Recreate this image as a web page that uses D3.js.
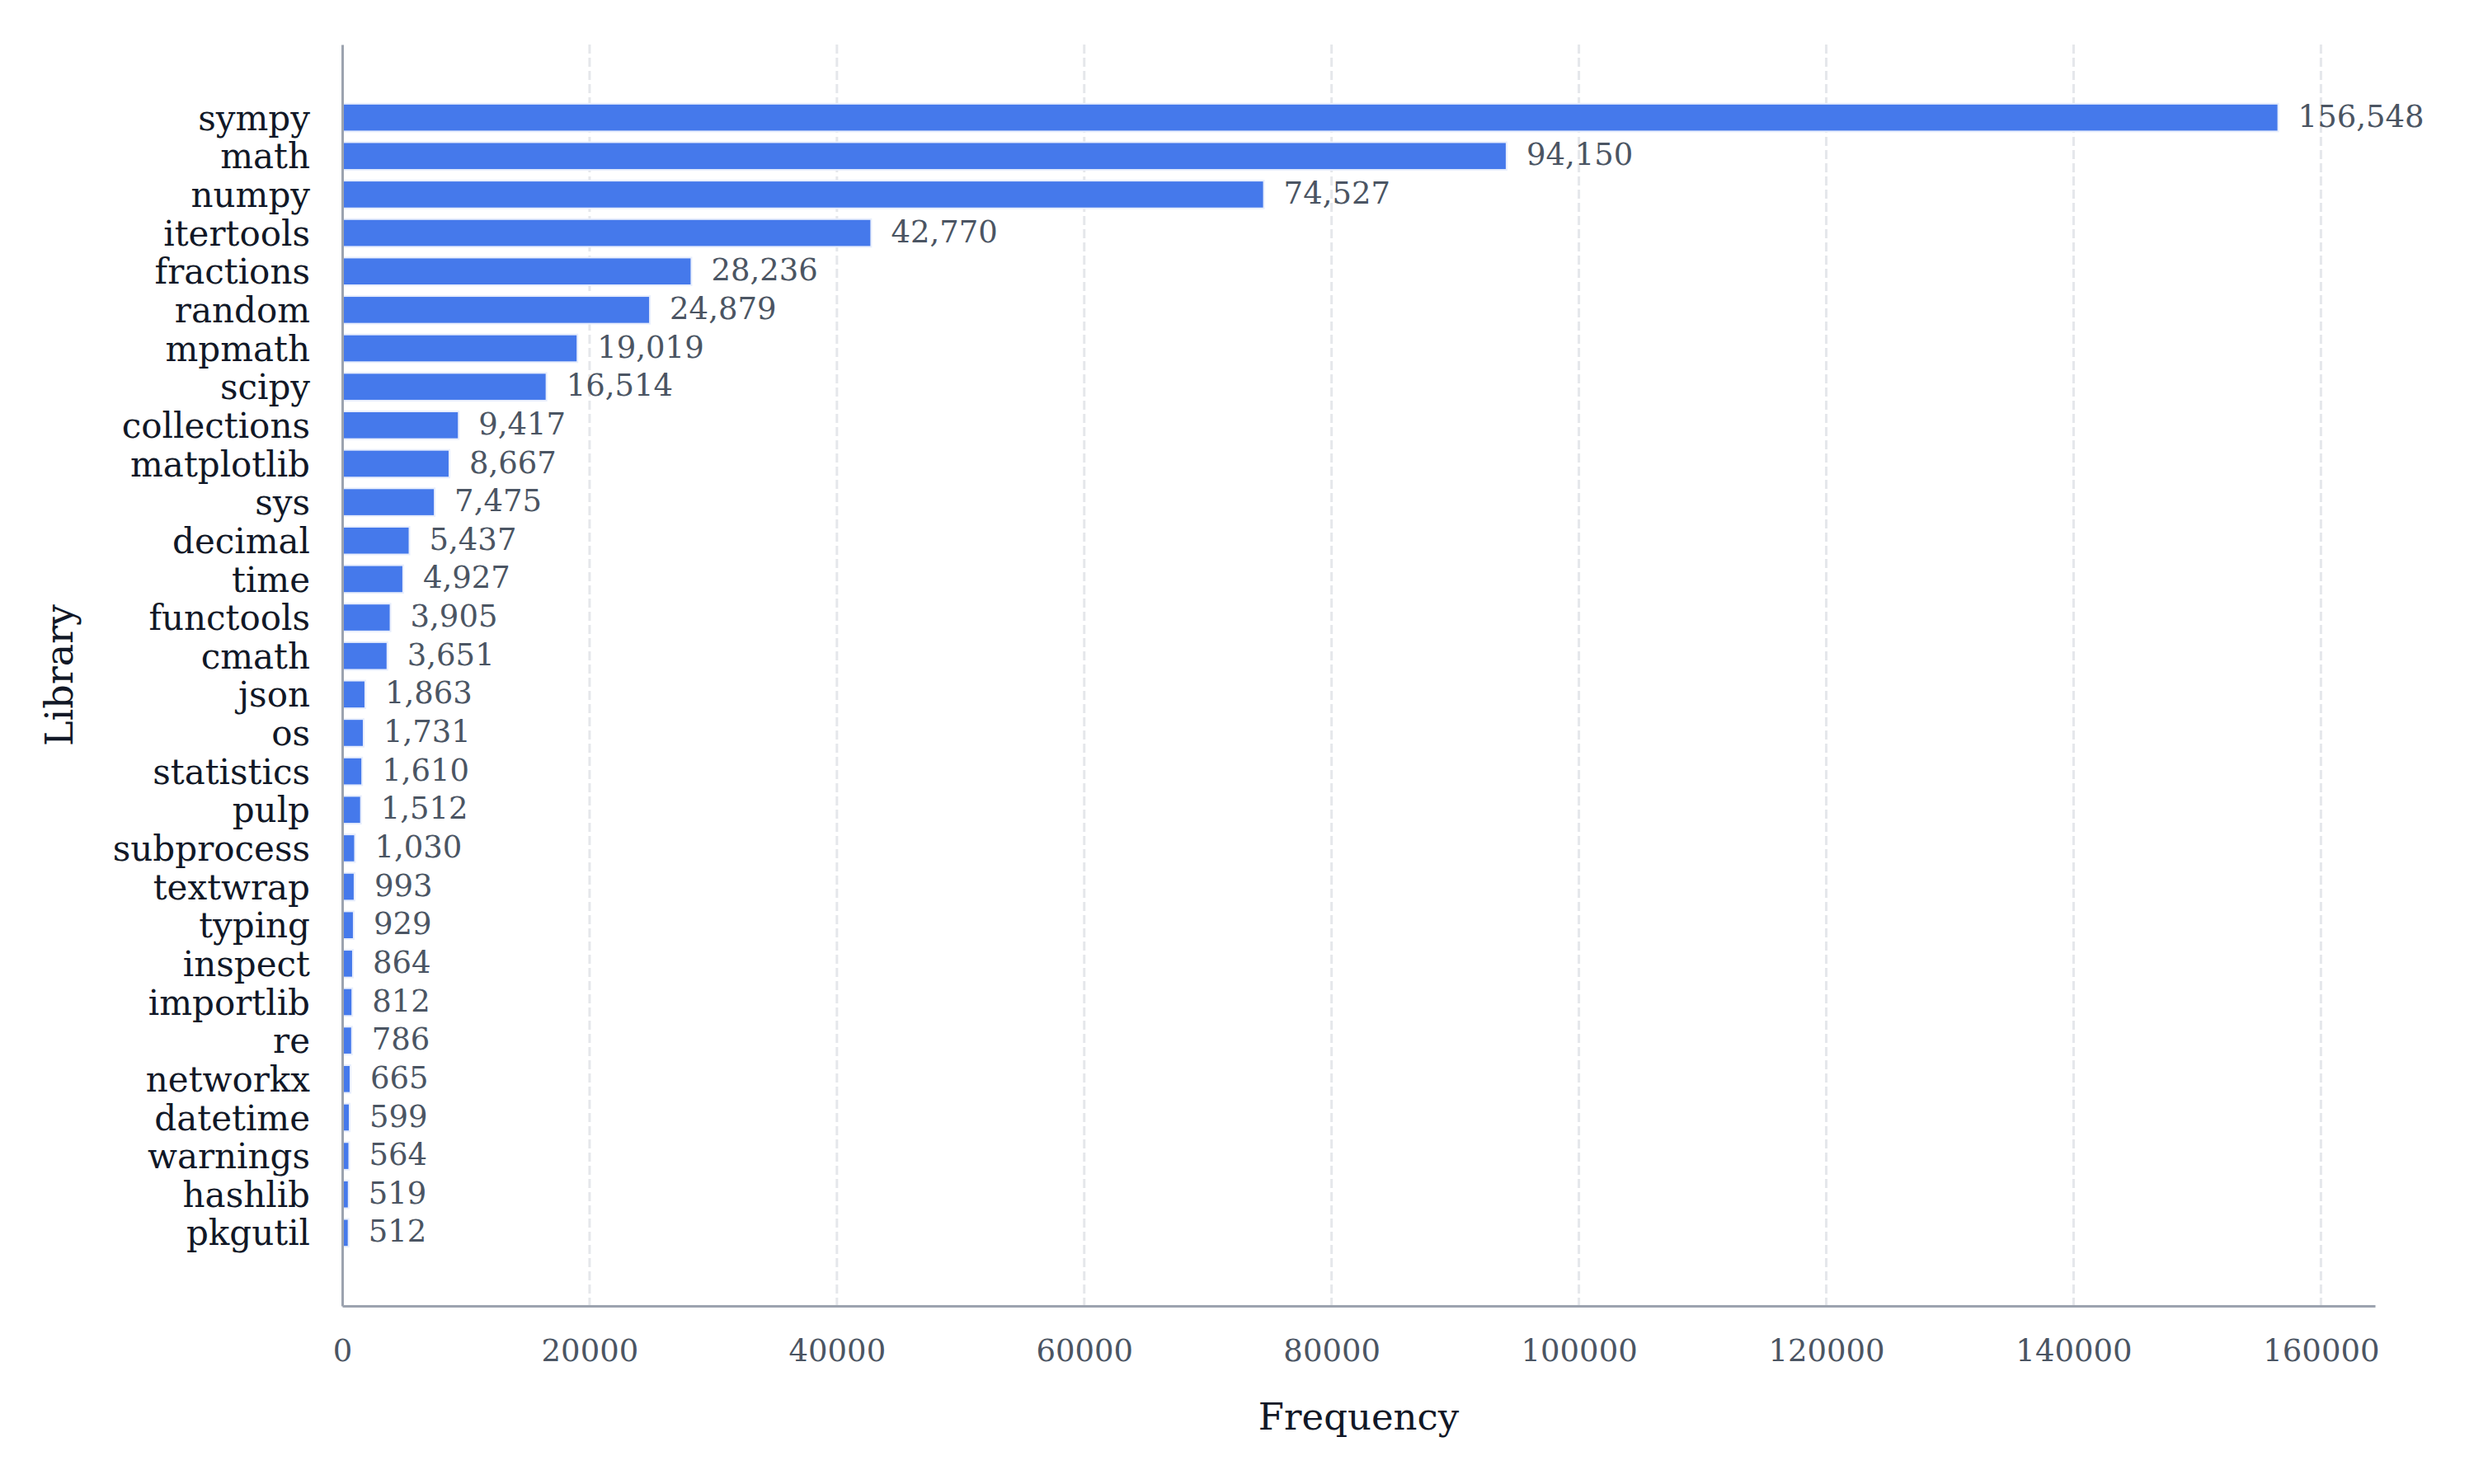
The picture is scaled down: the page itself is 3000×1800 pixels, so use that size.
<!DOCTYPE html>
<html lang="en">
<head>
    <meta charset="UTF-8">
    <title>Library Frequency</title>
    <script src="https://d3js.org/d3.v7.min.js"></script>
    <style>
        body{
            margin: 0;
            background: #ffffff;
        }
        svg text{
            font-family: "DejaVu Serif", serif;
        }
    </style>
</head>
<body>
<main>
    <svg id="canvas" width="3000" height="1800" viewBox="0 0 3000 1800"></svg>
</main>

<script>
    // libraries, in the order they are drawn top to bottom
    const libraries = [
        "sympy", "math", "numpy", "itertools", "fractions", "random", "mpmath", "scipy",
        "collections", "matplotlib", "sys", "decimal", "time", "functools", "cmath", "json",
        "os", "statistics", "pulp", "subprocess", "textwrap", "typing", "inspect", "importlib",
        "re", "networkx", "datetime", "warnings", "hashlib", "pkgutil"
    ];
    // how often each library shows up
    const frequencies = [
        156548, 94150, 74527, 42770, 28236, 24879, 19019, 16514,
        9417, 8667, 7475, 5437, 4927, 3905, 3651, 1863,
        1731, 1610, 1512, 1030, 993, 929, 864, 812,
        786, 665, 599, 564, 519, 512
    ];
    const xTicks = [0, 20000, 40000, 60000, 80000, 100000, 120000, 140000, 160000];

    const bar_color = "#3f75ea";
    const axis_color = "#9ca3af";
    const grid_color = "#e5e7eb";

    const rows = libraries.map((name, i) => ({name: name, value: frequencies[i]}));

    const width = 3000;
    const height = 1800;
    const margin = {top: 54, right: 120, bottom: 216, left: 415};

    const svg = d3.select("#canvas");

    // a little head room past the longest bar
    const x = d3.scaleLinear()
        .domain([0, d3.max(frequencies) * 1.05])
        .range([margin.left, width - margin.right]);

    const y = d3.scaleBand()
        .domain(libraries)
        .range([margin.top, height - margin.bottom])
        .paddingInner(0.28)
        .paddingOuter(1.54);

    // dashed vertical grid lines
    svg.append("g")
        .selectAll("line")
        .data(xTicks.filter(d => d > 0))
        .join("line")
        .attr("x1", d => x(d))
        .attr("x2", d => x(d))
        .attr("y1", margin.top)
        .attr("y2", height - margin.bottom)
        .attr("stroke", grid_color)
        .attr("stroke-width", 3)
        .attr("stroke-dasharray", "11,5");

    // bars
    svg.append("g")
        .selectAll("rect")
        .data(rows)
        .join("rect")
        .attr("x", x(0))
        .attr("y", d => y(d.name))
        .attr("width", d => x(d.value) - x(0))
        .attr("height", y.bandwidth())
        .attr("fill", bar_color)
        .attr("fill-opacity", 0.97)
        .attr("stroke", "#e8eefc")
        .attr("stroke-width", 2);

    // value labels at the end of each bar
    svg.append("g")
        .selectAll("text")
        .data(rows)
        .join("text")
        .attr("x", d => x(d.value) + 24)
        .attr("y", d => y(d.name) + y.bandwidth() / 2)
        .attr("dy", "0.3em")
        .attr("font-size", 37)
        .attr("fill", "#4b5563")
        .text(d => d3.format(",")(d.value));

    // x axis
    const xAxis = svg.append("g")
        .attr("transform", `translate(0,${height - margin.bottom})`)
        .call(d3.axisBottom(x).tickValues(xTicks).tickFormat(d3.format("d")).tickSize(0).tickPadding(41));
    xAxis.select(".domain").attr("stroke", axis_color).attr("stroke-width", 3);
    xAxis.selectAll("text")
        .attr("font-family", "DejaVu Serif")
        .attr("font-size", 37)
        .attr("fill", "#4b5563");

    // y axis
    const yAxis = svg.append("g")
        .attr("transform", `translate(${margin.left},0)`)
        .call(d3.axisLeft(y).tickSize(0).tickPadding(39));
    yAxis.select(".domain").attr("stroke", axis_color).attr("stroke-width", 3);
    yAxis.selectAll("text")
        .attr("font-family", "DejaVu Serif")
        .attr("font-size", 42)
        .attr("dy", "0.36em")
        .attr("fill", "#111827");

    // axis titles
    svg.append("text")
        .attr("x", (margin.left + width - margin.right) / 2)
        .attr("y", 1734)
        .attr("text-anchor", "middle")
        .attr("font-size", 45)
        .attr("fill", "#111827")
        .text("Frequency");

    svg.append("text")
        .attr("transform", `translate(88,${(margin.top + height - margin.bottom) / 2}) rotate(-90)`)
        .attr("text-anchor", "middle")
        .attr("font-size", 46)
        .attr("fill", "#111827")
        .text("Library");
</script>
</body>
</html>
